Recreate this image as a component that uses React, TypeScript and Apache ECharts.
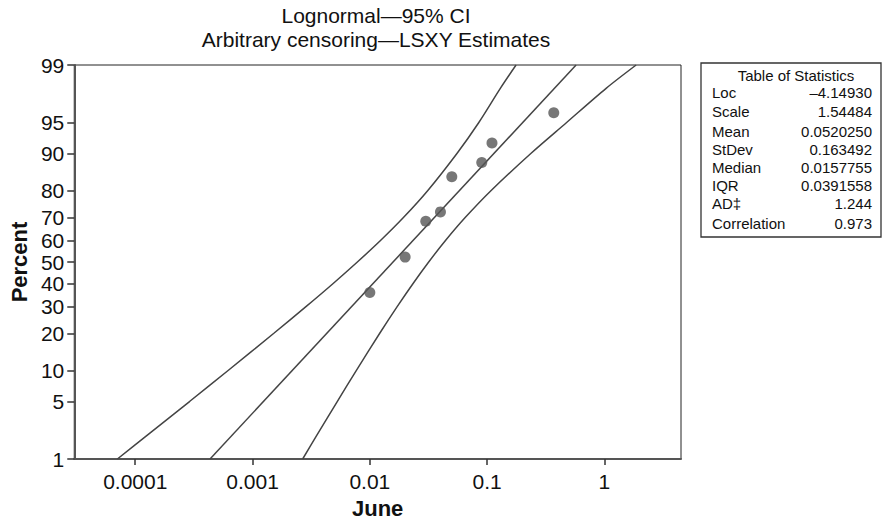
import { useEffect, useRef } from "react";
import * as echarts from "echarts";

const percentTicks = [1, 5, 10, 20, 30, 40, 50, 60, 70, 80, 90, 95, 99];
const xTicks = [0.0001, 0.001, 0.01, 0.1, 1];

const pointX = [0.01, 0.02, 0.03, 0.04, 0.05, 0.09, 0.11, 0.37];
const pointPct = [35.9, 52.3, 68.5, 72.3, 84.3, 88.0, 92.0, 96.1];

const fitPct = [1, 99];
const fitX = [0.000434, 0.5735];

const bandPct = [1, 2, 5, 10, 20, 30, 40, 50, 60, 70, 80, 90, 95, 98, 99];
const bandLowX = [7.04e-5, 1.245e-4, 2.92e-4, 6.19e-4, 1.52e-3, 2.87e-3, 4.87e-3, 7.83e-3, 0.01233, 0.01934, 0.0311, 0.0553, 0.0847, 0.13, 0.1765];
const bandHighX = [2.675e-3, 3.505e-3, 5.29e-3, 7.66e-3, 0.01215, 0.01716, 0.02338, 0.03176, 0.04416, 0.065, 0.1077, 0.2358, 0.4737, 1.04, 1.864];

const statNames = ["Loc", "Scale", "Mean", "StDev", "Median", "IQR", "AD\u2021", "Correlation"];
const statValues = ["\u20134.14930", "1.54484", "0.0520250", "0.163492", "0.0157755", "0.0391558", "1.244", "0.973"];
const statRowY = [92, 111.5, 131.5, 149.5, 167, 185, 203, 223.5];

const titleText = "Lognormal\u201495% CI\nArbitrary censoring\u2014LSXY Estimates";

function invNorm(p: number): number {
  const a = [-3.969683028665376e1, 2.209460984245205e2, -2.759285104469687e2, 1.38357751867269e2, -3.066479806614716e1, 2.506628277459239];
  const b = [-5.447609879822406e1, 1.615858368580409e2, -1.556989798598866e2, 6.680131188771972e1, -1.328068155288572e1];
  const c = [-7.784894002430293e-3, -3.223964580411365e-1, -2.400758277161838, -2.549732539343734, 4.374664141464968, 2.938163982698783];
  const d = [7.784695709041462e-3, 3.224671290700398e-1, 2.445134137142996, 3.754408661907416];
  const pl = 0.02425;
  const ph = 1 - pl;
  let q: number, r: number;
  if (p < pl) {
    q = Math.sqrt(-2 * Math.log(p));
    return (((((c[0] * q + c[1]) * q + c[2]) * q + c[3]) * q + c[4]) * q + c[5]) / ((((d[0] * q + d[1]) * q + d[2]) * q + d[3]) * q + 1);
  }
  if (p <= ph) {
    q = p - 0.5;
    r = q * q;
    return ((((((a[0] * r + a[1]) * r + a[2]) * r + a[3]) * r + a[4]) * r + a[5]) * q) / (((((b[0] * r + b[1]) * r + b[2]) * r + b[3]) * r + b[4]) * r + 1);
  }
  q = Math.sqrt(-2 * Math.log(1 - p));
  return -(((((c[0] * q + c[1]) * q + c[2]) * q + c[3]) * q + c[4]) * q + c[5]) / ((((d[0] * q + d[1]) * q + d[2]) * q + d[3]) * q + 1);
}

const z = (pct: number) => invNorm(pct / 100);

export default function App() {
  const ref = useRef<HTMLDivElement>(null);
  useEffect(() => {
    if (!ref.current) return;
    const chart = echarts.init(ref.current, null, { renderer: "svg" });
    const font = "Liberation Sans, Arial, Helvetica, sans-serif";
    const zTicks = percentTicks.map(z);
    const lineColor = "#444";

    const graphic: any[] = [
      {
        type: "rect",
        shape: { x: 701, y: 63, width: 180, height: 174 },
        style: { fill: "#fff", stroke: "#333", lineWidth: 1.3 },
      },
      {
        type: "text",
        x: 796,
        y: 75,
        style: { text: "Table of Statistics", fontSize: 15, fontFamily: font, fill: "#111", align: "center", verticalAlign: "middle" },
      },
    ];
    statNames.forEach((n, i) => {
      graphic.push({
        type: "text",
        x: 712,
        y: statRowY[i],
        style: { text: n, fontSize: 15, fontFamily: font, fill: "#111", align: "left", verticalAlign: "middle" },
      });
      graphic.push({
        type: "text",
        x: 872,
        y: statRowY[i],
        style: { text: statValues[i], fontSize: 15, fontFamily: font, fill: "#111", align: "right", verticalAlign: "middle" },
      });
    });

    chart.setOption({
      animation: false,
      backgroundColor: "#fff",
      title: {
        text: titleText,
        left: 376,
        top: 3,
        padding: 0,
        textAlign: "center",
        textStyle: { fontSize: 21, fontWeight: "normal", color: "#111", lineHeight: 24, fontFamily: font },
      },
      grid: {
        left: 71,
        right: 201,
        top: 65,
        bottom: 66,
        show: true,
        borderColor: "#222",
        borderWidth: 1,
        containLabel: false,
      },
      xAxis: {
        type: "log",
        logBase: 10,
        min: Math.pow(10, -4.52),
        max: Math.pow(10, 0.653),
        name: "June",
        nameLocation: "middle",
        nameGap: 38,
        nameTextStyle: { fontSize: 22, fontWeight: "bold", color: "#111", fontFamily: font },
        axisLine: { show: true, onZero: false, lineStyle: { color: "#555", width: 2 } },
        axisTick: { show: true, length: 6, lineStyle: { color: "#333", width: 1.5 }, customValues: xTicks },
        axisLabel: {
          customValues: xTicks,
          fontSize: 21,
          color: "#111",
          fontFamily: font,
          margin: 12,
          formatter: (v: number) => String(Number(v.toPrecision(6))),
        },
        splitLine: { show: false },
      },
      yAxis: {
        type: "value",
        min: z(1),
        max: z(99),
        name: "Percent",
        nameLocation: "middle",
        nameGap: 42,
        nameTextStyle: { fontSize: 22, fontWeight: "bold", color: "#111", fontFamily: font },
        axisLine: { show: true, onZero: false, lineStyle: { color: "#555", width: 2 } },
        axisTick: { show: true, length: 7, lineStyle: { color: "#333", width: 1.5 }, customValues: zTicks },
        axisLabel: {
          customValues: zTicks,
          fontSize: 21,
          color: "#111",
          fontFamily: font,
          margin: 10,
          formatter: (v: number) => {
            let best = 0;
            let bd = Infinity;
            zTicks.forEach((t, i) => {
              const dd = Math.abs(t - v);
              if (dd < bd) {
                bd = dd;
                best = i;
              }
            });
            return String(percentTicks[best]);
          },
        },
        splitLine: { show: false },
      },
      series: [
        {
          type: "line",
          data: bandPct.map((p, i) => [bandLowX[i], z(p)]),
          smooth: 0.3,
          symbol: "none",
          lineStyle: { color: lineColor, width: 1.5 },
          silent: true,
        },
        {
          type: "line",
          data: bandPct.map((p, i) => [bandHighX[i], z(p)]),
          smooth: 0.3,
          symbol: "none",
          lineStyle: { color: lineColor, width: 1.5 },
          silent: true,
        },
        {
          type: "line",
          data: fitPct.map((p, i) => [fitX[i], z(p)]),
          symbol: "none",
          lineStyle: { color: lineColor, width: 1.5 },
          silent: true,
        },
        {
          type: "scatter",
          data: pointPct.map((p, i) => [pointX[i], z(p)]),
          symbol: "circle",
          symbolSize: 11,
          itemStyle: { color: "#555" },
          z: 5,
        },
      ],
      graphic,
    });
    return () => chart.dispose();
  }, []);
  return <div ref={ref} style={{ position: "fixed", left: 0, top: 0, width: 882, height: 525 }} />;
}
